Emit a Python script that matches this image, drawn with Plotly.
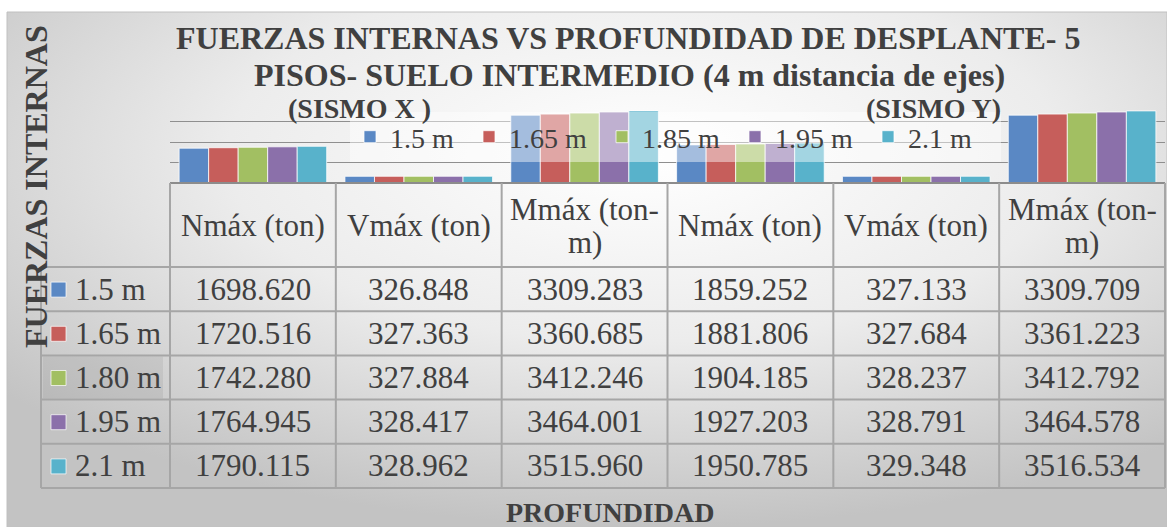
import base64
import plotly.graph_objects as go

# ---- data ----------------------------------------------------------------
header_lines = [
    ["Nmáx (ton)"], ["Vmáx (ton)"], ["Mmáx (ton-", "m)"],
    ["Nmáx (ton)"], ["Vmáx (ton)"], ["Mmáx (ton-", "m)"],
]
series_names = ["1.5 m", "1.65 m", "1.85 m", "1.95 m", "2.1 m"]
row_labels = ["1.5 m", "1.65 m", "1.80 m", "1.95 m", "2.1 m"]

d_150 = [1698.620, 326.848, 3309.283, 1859.252, 327.133, 3309.709]
d_165 = [1720.516, 327.363, 3360.685, 1881.806, 327.684, 3361.223]
d_180 = [1742.280, 327.884, 3412.246, 1904.185, 328.237, 3412.792]
d_195 = [1764.945, 328.417, 3464.001, 1927.203, 328.791, 3464.578]
d_210 = [1790.115, 328.962, 3515.960, 1950.785, 329.348, 3516.534]
series_values = [d_150, d_165, d_180, d_195, d_210]

colors = ["#5A88C4", "#C65E5B", "#A2BF62", "#8B70AA", "#58B2CB"]
legend_widths = [74, 88, 88, 88, 88]

# ---- geometry (pixels) ---------------------------------------------------
W, H = 1167, 527
FONT = "Liberation Serif, Times New Roman, serif"
TXT = "#404040"
CELL_SIZE = 31

PLOT_L, PLOT_R = 170, 1165
PLOT_T, PLOT_B = 101, 183
TABLE_L = 41
HEADER_B = 267
ROW_H = 44.2


def px(x):
    return x / W


def py(y):
    return 1 - y / H


n_cat = len(header_lines)
x_pos = list(range(n_cat))
col_w = (PLOT_R - PLOT_L) / n_cat
col_edges = [PLOT_L + i * col_w for i in range(n_cat + 1)]
row_edges = [HEADER_B + i * ROW_H for i in range(len(row_labels) + 1)]

fig = go.Figure()

for name, vals, c, lw in zip(series_names, series_values, colors, legend_widths):
    fig.add_trace(go.Bar(
        x=x_pos, y=vals, name=name, legendwidth=lw,
        marker=dict(color=c, line=dict(color="rgba(255,255,255,0.75)", width=1)),
    ))

# ---- background gradient panel ------------------------------------------
svg = (
    '<svg xmlns="http://www.w3.org/2000/svg" width="1160" height="515" '
    'viewBox="0 0 1160 515" preserveAspectRatio="none"><defs>'
    '<radialGradient id="g" cx="0.55" cy="0.28" r="0.72">'
    '<stop offset="0" stop-color="#ffffff"/>'
    '<stop offset="0.5" stop-color="#ececec"/>'
    '<stop offset="1" stop-color="#c3c3c3"/>'
    '</radialGradient></defs>'
    '<rect width="1160" height="515" fill="url(#g)"/></svg>'
)
bg_src = "data:image/svg+xml;base64," + base64.b64encode(svg.encode()).decode()

shapes = []
annotations = []

# panel border
shapes.append(dict(type="rect", xref="paper", yref="paper",
                   x0=px(7), x1=px(1167), y0=py(527), y1=py(12),
                   line=dict(color="#c0c0c0", width=1), layer="below"))

# highlighted row label cell
shapes.append(dict(type="rect", xref="paper", yref="paper",
                   x0=px(43), x1=px(163), y0=py(row_edges[3] - 1), y1=py(row_edges[2] + 1),
                   fillcolor="rgba(0,0,0,0.06)", line=dict(width=0)))

GRID = "#a6a6a6"
# table horizontal lines
shapes.append(dict(type="line", xref="paper", yref="paper",
                   x0=px(PLOT_L), x1=px(PLOT_R), y0=py(PLOT_B), y1=py(PLOT_B),
                   line=dict(color="#8c8c8c", width=2)))
for r in row_edges:
    shapes.append(dict(type="line", xref="paper", yref="paper",
                       x0=px(TABLE_L), x1=px(PLOT_R), y0=py(r), y1=py(r),
                       line=dict(color=GRID, width=2)))
# table vertical lines
for c in col_edges:
    shapes.append(dict(type="line", xref="paper", yref="paper",
                       x0=px(c), x1=px(c), y0=py(PLOT_B), y1=py(row_edges[-1]),
                       line=dict(color=GRID, width=2)))
shapes.append(dict(type="line", xref="paper", yref="paper",
                   x0=px(TABLE_L), x1=px(TABLE_L), y0=py(HEADER_B), y1=py(row_edges[-1]),
                   line=dict(color=GRID, width=2)))

# header text
for i, lines in enumerate(header_lines):
    cx = (col_edges[i] + col_edges[i + 1]) / 2
    if len(lines) == 1:
        ys = [(PLOT_B + HEADER_B) / 2]
    else:
        ys = [210, 242]
    for t, yy in zip(lines, ys):
        annotations.append(dict(text=t, x=px(cx), y=py(yy), xref="paper", yref="paper",
                                showarrow=False, xanchor="center", yanchor="middle",
                                font=dict(family=FONT, size=CELL_SIZE, color=TXT)))

# body: legend keys, row labels, values
for r, (lab, vals, c) in enumerate(zip(row_labels, series_values, colors)):
    cy = (row_edges[r] + row_edges[r + 1]) / 2
    shapes.append(dict(type="rect", xref="paper", yref="paper",
                       x0=px(51), x1=px(66), y0=py(cy + 8), y1=py(cy - 7),
                       fillcolor=c, line=dict(color="rgba(255,255,255,0.7)", width=1)))
    annotations.append(dict(text=lab, x=px(73), y=py(cy), xref="paper", yref="paper",
                            showarrow=False, xanchor="left", yanchor="middle",
                            font=dict(family=FONT, size=CELL_SIZE, color=TXT)))
    for i, v in enumerate(vals):
        cx = (col_edges[i] + col_edges[i + 1]) / 2
        annotations.append(dict(text=f"{v:.3f}", x=px(cx), y=py(cy), xref="paper", yref="paper",
                                showarrow=False, xanchor="center", yanchor="middle",
                                font=dict(family=FONT, size=CELL_SIZE, color=TXT)))

# titles
annotations.append(dict(text="<b>FUERZAS INTERNAS VS PROFUNDIDAD DE DESPLANTE- 5</b>",
                        x=px(628), y=py(38), xref="paper", yref="paper", showarrow=False,
                        xanchor="center", yanchor="middle",
                        font=dict(family=FONT, size=32, color=TXT)))
annotations.append(dict(text="<b>PISOS- SUELO INTERMEDIO (4 m distancia de ejes)</b>",
                        x=px(629), y=py(75), xref="paper", yref="paper", showarrow=False,
                        xanchor="center", yanchor="middle",
                        font=dict(family=FONT, size=32, color=TXT)))
annotations.append(dict(text="<b>(SISMO X )</b>", x=px(359), y=py(108), xref="paper", yref="paper",
                        showarrow=False, xanchor="center", yanchor="middle",
                        font=dict(family=FONT, size=28, color=TXT)))
annotations.append(dict(text="<b>(SISMO Y)</b>", x=px(933), y=py(108), xref="paper", yref="paper",
                        showarrow=False, xanchor="center", yanchor="middle",
                        font=dict(family=FONT, size=28, color=TXT)))
annotations.append(dict(text="<b>FUERZAS INTERNAS</b>", x=px(36), y=py(187), xref="paper", yref="paper",
                        showarrow=False, xanchor="center", yanchor="middle", textangle=-90,
                        font=dict(family=FONT, size=32, color=TXT)))
annotations.append(dict(text="<b>PROFUNDIDAD</b>", x=px(610), y=py(512), xref="paper", yref="paper",
                        showarrow=False, xanchor="center", yanchor="middle",
                        font=dict(family=FONT, size=28, color=TXT)))

fig.update_layout(
    width=W, height=H,
    margin=dict(l=0, r=0, t=0, b=0),
    paper_bgcolor="white",
    plot_bgcolor="rgba(0,0,0,0)",
    barmode="group", bargap=0.11, bargroupgap=0,
    images=[dict(source=bg_src, xref="paper", yref="paper",
                 x=px(7), y=py(12), sizex=(W - 7) / W, sizey=(H - 12) / H,
                 xanchor="left", yanchor="top", sizing="stretch", layer="below")],
    xaxis=dict(domain=[px(PLOT_L), px(PLOT_R)], range=[-0.5, n_cat - 0.5],
               showticklabels=False, showgrid=False, zeroline=False, showline=False,
               ticks=""),
    yaxis=dict(domain=[py(PLOT_B), py(PLOT_T)], range=[0, 4000], dtick=1000,
               showticklabels=False, showgrid=True, gridcolor="#8f8f8f", gridwidth=1,
               zeroline=False, showline=False, ticks=""),
    legend=dict(orientation="h", x=px(350), y=py(112), xanchor="left", yanchor="top",
                bgcolor="rgba(255,255,255,0.45)", borderwidth=0,
                font=dict(family=FONT, size=28, color=TXT),
                traceorder="normal", itemclick=False),
    shapes=shapes,
    annotations=annotations,
    showlegend=True,
)

fig.write_html("out.html")
